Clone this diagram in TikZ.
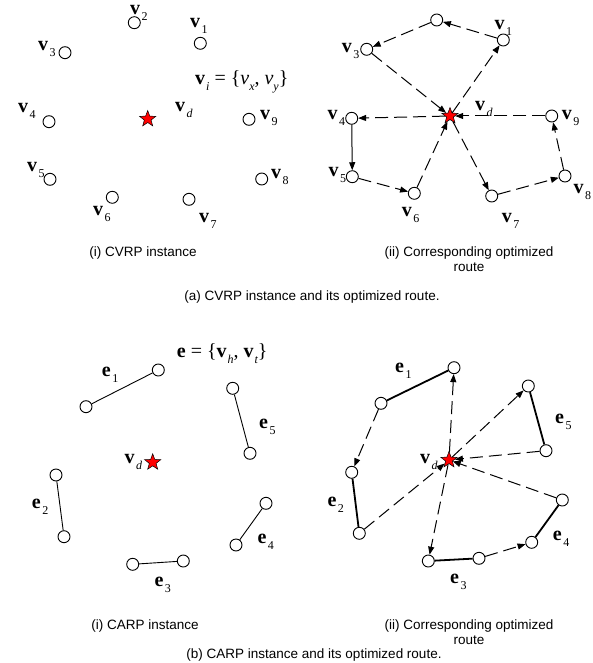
\documentclass[tikz,border=0pt]{standalone}
\usepackage{fontspec}
\setmainfont{Liberation Serif}
\setsansfont{Liberation Sans}
\usetikzlibrary{shapes.geometric,arrows.meta}
\newcommand\subsz{\fontsize{12}{12}\selectfont}
\newcommand\Vl[1]{\textbf{v}\kern1.5pt\raisebox{-0.3em}{\subsz #1}}
\newcommand\El[1]{\textbf{e}\kern1.5pt\raisebox{-0.3em}{\subsz #1}}
\begin{document}
\begin{tikzpicture}[x=1pt,y=-1pt,
  pt/.style={circle, draw, line width=0.9pt, minimum size=12pt, inner sep=0pt, fill=white},
  depot/.style={star, star points=5, star point ratio=2.4, minimum size=17pt, inner sep=0pt, fill=red, draw=black, line width=0.5pt},
  route/.style={line width=1pt, dash pattern=on 13pt off 6pt, -{Triangle[length=8pt,width=6pt]}},
  solidroute/.style={line width=1pt, -{Triangle[length=8pt,width=6pt]}},
  thin edge/.style={line width=0.9pt},
  thick edge/.style={line width=1.8pt},
  lab/.style={font=\fontsize{20}{22}\selectfont, inner sep=0pt, anchor=base west},
  captxt/.style={font=\sffamily\fontsize{13.5}{15}\selectfont, align=center, inner sep=0pt}]
\useasboundingbox (0,0) rectangle (592,663);

% ---------- (a)(i) CVRP instance ----------
\node[pt] (p1) at (200.3,43.3) {};
\node[pt] (p2) at (134.3,22.7) {};
\node[pt] (p3) at (65,52.7) {};
\node[pt] (p4) at (49,121.7) {};
\node[pt] (p5) at (50,179.3) {};
\node[pt] (p6) at (112.3,197.3) {};
\node[pt] (p7) at (189,199.3) {};
\node[pt] (p8) at (261.7,179) {};
\node[pt] (p9) at (249,119.3) {};
\node[depot] (pd) at (147.7,119) {};
\node[lab] (lp1) at (190,27.6) {\Vl{1}};
\node[lab] (lp2) at (130,15) {\Vl{2}};
\node[lab] (lp3) at (38,50.6) {\Vl{3}};
\node[lab] (lp4) at (18,112.6) {\Vl{4}};
\node[lab] (lp5) at (27,171.6) {\Vl{5}};
\node[lab] (lp6) at (93,215.6) {\Vl{6}};
\node[lab] (lp7) at (199,222.6) {\Vl{7}};
\node[lab] (lp8) at (271,178.6) {\Vl{8}};
\node[lab] (lp9) at (260,119.6) {\Vl{9}};
\node[lab] (lpd) at (175,111.6) {\Vl{\itshape d}};
\node[lab] (fa) at (195,84.6) {\textbf{v}\kern1pt\raisebox{-0.3em}{\subsz\itshape i}\ =\ \{\textit{v}\raisebox{-0.3em}{\subsz\itshape x}, \textit{v}\raisebox{-0.3em}{\subsz\itshape y}\}};

% ---------- (a)(ii) CVRP route ----------
\node[pt] (a0) at (436.7,20) {};
\node[pt] (a1) at (503.3,40) {};
\node[pt] (a3) at (366.7,49.3) {};
\node[pt] (a4) at (351.7,118.3) {};
\node[pt] (a5) at (352.3,176.7) {};
\node[pt] (a6) at (414.3,193.3) {};
\node[pt] (a7) at (491.7,196) {};
\node[pt] (a8) at (565,176) {};
\node[pt] (a9) at (551.7,116) {};
\node[depot] (ad) at (450,116) {};
\node[lab] (la1) at (494.3,29.6) {\Vl{1}};
\node[lab] (la3) at (341.7,52.9) {\Vl{3}};
\node[lab] (la4) at (327.3,119.6) {\Vl{4}};
\node[lab] (la5) at (328.3,176.3) {\Vl{5}};
\node[lab] (la6) at (401.7,216.3) {\Vl{6}};
\node[lab] (la7) at (501.7,222.9) {\Vl{7}};
\node[lab] (la8) at (573.3,193.9) {\Vl{8}};
\node[lab] (la9) at (561.7,119.6) {\Vl{9}};
\node[lab] (lad) at (475,110.6) {\Vl{\itshape d}};
\draw[route] (a1) -- (a0);
\draw[route] (a0) -- (a3);
\draw[route] (a3) -- (ad);
\draw[route] (ad) -- (a1);
\draw[route] (ad) -- (a4);
\draw[solidroute] (a4) -- (a5);
\draw[route] (a5) -- (a6);
\draw[route] (a6) -- (ad);
\draw[route] (ad) -- (a7);
\draw[route] (a7) -- (a8);
\draw[route] (a8) -- (a9);
\draw[route] (a9) -- (ad);

\node[captxt] (ca1) at (143,253) {(i) CVRP instance};
\node[captxt] (ca2) at (469,259.5) {(ii) Corresponding optimized\\route};
\node[captxt] (ca) at (312,297) {(a) CVRP instance and its optimized route.};

% ---------- (b)(i) CARP instance ----------
\node[pt] (q1h) at (158.3,370) {};
\node[pt] (q1t) at (86,406.7) {};
\node[pt] (q2h) at (56,475) {};
\node[pt] (q2t) at (64,536.7) {};
\node[pt] (q3l) at (132.7,564.3) {};
\node[pt] (q3r) at (183.3,561) {};
\node[pt] (q4l) at (236,545) {};
\node[pt] (q4u) at (266,503.3) {};
\node[pt] (q5u) at (232.7,388.3) {};
\node[pt] (q5l) at (250,453.3) {};
\node[depot] (qd) at (152.7,462.3) {};
\draw[thin edge] (q1h) -- (q1t);
\draw[thin edge] (q2h) -- (q2t);
\draw[thin edge] (q3l) -- (q3r);
\draw[thin edge] (q4l) -- (q4u);
\draw[thin edge] (q5u) -- (q5l);
\node[lab] (lq1) at (101.7,376.3) {\El{1}};
\node[lab] (lq2) at (31.7,508.6) {\El{2}};
\node[lab] (lq3) at (154.3,586.3) {\El{3}};
\node[lab] (lq4) at (257.3,543.9) {\El{4}};
\node[lab] (lq5) at (259,428.6) {\El{5}};
\node[lab] (lqd) at (124.3,463.9) {\Vl{\itshape d}};
\node[lab] (fb) at (176.7,357.9) {\textbf{e}\ =\ \{\textbf{v}\kern1pt\raisebox{-0.3em}{\subsz\itshape h}, \textbf{v}\kern1pt\raisebox{-0.3em}{\subsz\itshape t}\}};

% ---------- (b)(ii) CARP route ----------
\node[pt] (b1h) at (454,367.7) {};
\node[pt] (b1t) at (381,403.3) {};
\node[pt] (b2h) at (351.7,472.3) {};
\node[pt] (b2t) at (359.3,533.3) {};
\node[pt] (b3l) at (428.3,561) {};
\node[pt] (b3r) at (479,558.3) {};
\node[pt] (b4l) at (531.7,542.3) {};
\node[pt] (b4u) at (562.3,500) {};
\node[pt] (b5u) at (528.3,386) {};
\node[pt] (b5l) at (546,450.7) {};
\node[depot] (bd) at (449,460) {};
\draw[thick edge] (b1h) -- (b1t);
\draw[thick edge] (b2h) -- (b2t);
\draw[thick edge] (b3l) -- (b3r);
\draw[thick edge] (b4l) -- (b4u);
\draw[thick edge] (b5u) -- (b5l);
\draw[route] (b1t) -- (b2h);
\draw[route] (b2t) -- (bd);
\draw[route] (bd) -- (b1h);
\draw[route] (bd) -- (b5u);
\draw[route] (b5l) -- (bd);
\draw[route] (b4u) -- (bd);
\draw[route] (bd) -- (b3l);
\draw[route] (b3r) -- (b4l);
\node[lab] (lb1) at (395,372.9) {\El{1}};
\node[lab] (lb2) at (327.3,506.3) {\El{2}};
\node[lab] (lb3) at (450,583.9) {\El{3}};
\node[lab] (lb4) at (552.7,540.6) {\El{4}};
\node[lab] (lb5) at (555,423.9) {\El{5}};
\node[lab] (lbd) at (420,463.9) {\Vl{\itshape d}};

\node[captxt] (cb1) at (145,626) {(i) CARP instance};
\node[captxt] (cb2) at (469,632) {(ii) Corresponding optimized\\route};
\node[captxt] (cb) at (314,655) {(b) CARP instance and its optimized route.};
\end{tikzpicture}
\end{document}
